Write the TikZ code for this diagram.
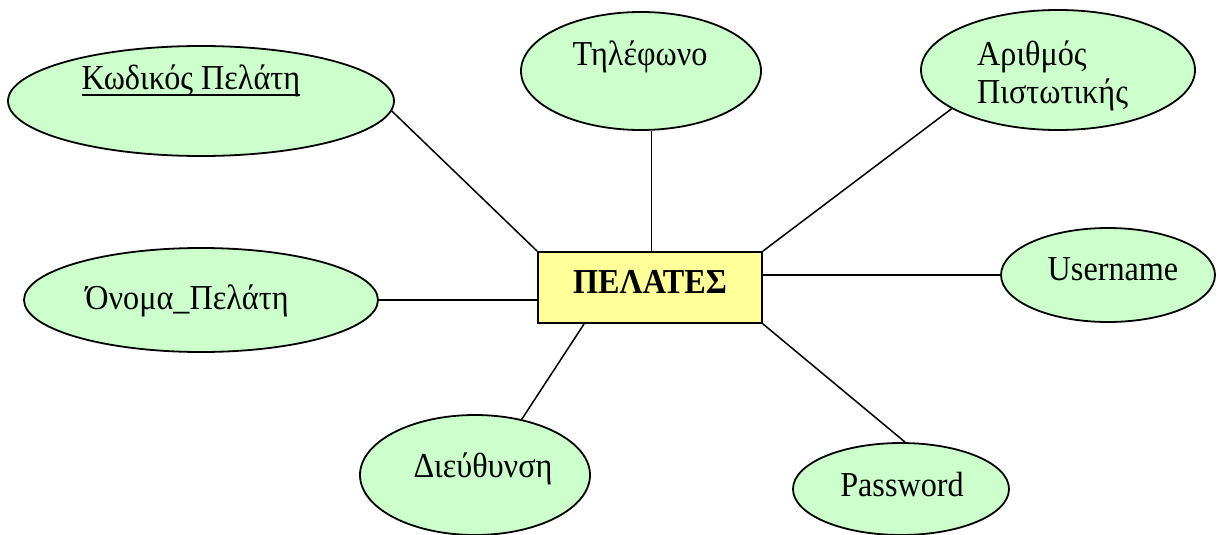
\documentclass[tikz,border=0pt]{standalone}
\usepackage{fontspec}
\setmainfont{Liberation Serif}[FakeStretch=0.92]
\usetikzlibrary{shapes.geometric,calc}
\definecolor{attrfill}{HTML}{CCFFCC}
\definecolor{entityfill}{HTML}{FFFF99}
\tikzset{
  attr/.style={ellipse, draw, line width=1.8pt, fill=attrfill, inner sep=0pt},
  entity/.style={rectangle, draw, line width=1.8pt, fill=entityfill, inner sep=0pt,
                 minimum width=224pt, minimum height=71pt},
  label/.style={font=\fontsize{35}{40}\selectfont, inner sep=0pt, anchor=base},
  link/.style={line width=1.5pt},
  keyline/.style={line width=1.8pt}
}
\begin{document}
\begin{tikzpicture}[x=1pt, y=-1pt]
\useasboundingbox (0,0) rectangle (1218,535);

% attribute ellipses
\node[attr, minimum width=386pt, minimum height=110pt] (kod) at (201,101) {};
\node[attr, minimum width=240pt, minimum height=118pt] (til) at (641,71) {};
\node[attr, minimum width=274pt, minimum height=120pt] (ari) at (1058,70) {};
\node[attr, minimum width=214pt, minimum height=94pt]  (usr) at (1108,275) {};
\node[attr, minimum width=354pt, minimum height=104pt] (ono) at (201,300) {};
\node[attr, minimum width=230pt, minimum height=120pt] (die) at (475,475) {};
\node[attr, minimum width=216pt, minimum height=92pt]  (pas) at (901,489) {};

% entity
\node[entity] (pel) at (650,287.5) {};

% texts
\node[label] (kodt) at (191,89) {Κωδικός Πελάτη};
\draw[keyline] ([yshift=-6pt]kodt.base west) -- ([yshift=-6pt]kodt.base east);
\node[label] (tilt) at (640,66) {Τηλέφωνο};
\node[label, anchor=base west] (arit1) at (977,66) {Αριθμός};
\node[label, anchor=base west] (arit2) at (977,103) {Πιστωτικής};
\node[label] (usrt) at (1113,280) {Username};
\node[label] (onot) at (187,309) {Όνομα\_Πελάτη};
\node[label] (diet) at (483,477) {Διεύθυνση};
\node[label] (past) at (902,496) {Password};
\node[label, font=\fontsize{35}{40}\selectfont\bfseries] (pelt) at (650,293) {ΠΕΛΑΤΕΣ};

% connectors
\coordinate (pelbot) at ($(pel.south west)+(47,0)$);
\draw[link] (kod.-3) -- (pel.north west);
\draw[link] (til.-80) -- (til.-80 |- pel.north);
\draw[link] (ari.200) -- (pel.north east);
\draw[link] (usr.west) -- (usr.west -| pel.east);
\draw[link] (ono.east) -- (ono.east -| pel.west);
\draw[link] (die.50) -- (pelbot);
\draw[link] (pas.85) -- (pel.south east);
\end{tikzpicture}
\end{document}
